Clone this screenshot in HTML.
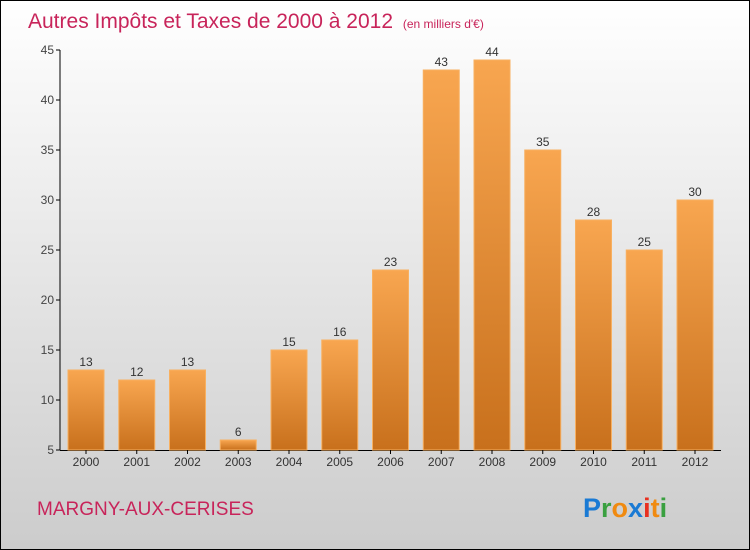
<!DOCTYPE html>
<html><head><meta charset="utf-8"><style>
body{margin:0}
#wrap{position:relative;width:748px;height:548px;border:1px solid #000;background:linear-gradient(#ffffff,#cccccc);font-family:"Liberation Sans",sans-serif;overflow:hidden}
</style></head><body>
<div id="wrap">
<svg width="748" height="548">
<defs><linearGradient id="bg" x1="0" y1="0" x2="0" y2="1"><stop offset="0" stop-color="#f8a650"/><stop offset="1" stop-color="#c8701c"/></linearGradient></defs>
<text x="27" y="27" font-size="21" fill="#c8245a">Autres Impôts et Taxes de 2000 à 2012 <tspan font-size="12" dx="4">(en milliers d'€)</tspan></text>
<g id="plot"></g>
<text x="36" y="514" font-size="19" fill="#c8245a">MARGNY-AUX-CERISES</text>
<g font-size="27" font-weight="bold" font-family="Liberation Sans,sans-serif">
<text x="582" y="516"><tspan fill="#1a7ad4">P</tspan><tspan fill="#3aa040">r</tspan><tspan fill="#f08a10">o</tspan><tspan fill="#1a7ad4">x</tspan><tspan fill="#e83020">i</tspan><tspan fill="#f08a10">t</tspan><tspan fill="#3aa040">i</tspan></text></g>
</svg></div>
<script>
const years=["2000","2001","2002","2003","2004","2005","2006","2007","2008","2009","2010","2011","2012"];
const values=[13,12,13,6,15,16,23,43,44,35,28,25,30];
const yTicks=[5,10,15,20,25,30,35,40,45];
const NS="http://www.w3.org/2000/svg";
const g=document.getElementById('plot');
const y=v=>449-(v-5)*10;
const x=i=>85+i*50.75;
function mk(t,a){const e=document.createElementNS(NS,t);for(const k in a)e.setAttribute(k,a[k]);g.appendChild(e);return e;}
let ax=mk('line',{x1:59,y1:y(45),x2:59,y2:y(5),stroke:'#000'});


let bx=mk('line',{x1:59,y1:y(5)+0.5,x2:720,y2:y(5)+0.5,stroke:'#000'});


yTicks.forEach(t=>{
 mk('line',{x1:55,y1:y(t),x2:59,y2:y(t),stroke:'#000'});
 const l=mk('text',{x:53,y:y(t)+4,'font-size':12,fill:'#444','text-anchor':'end'});
 l.textContent=t;
 
 
});
values.forEach((v,i)=>{
 const r=mk('rect',{x:x(i)-18,y:y(v),width:36,height:y(5)-y(v),fill:'url(#bg)',stroke:'#f8b060','stroke-width':1});
 
 
 const vl=mk('text',{x:x(i),y:y(v)-4,'font-size':12,fill:'#333','text-anchor':'middle'});
 vl.textContent=v;
 
 
 mk('line',{x1:x(i),y1:y(5),x2:x(i),y2:y(5)+4,stroke:'#000'});
 const xl=mk('text',{x:x(i),y:465,'font-size':12,fill:'#333','text-anchor':'middle'});
 xl.textContent=years[i];
 
 
});
</script>
</body></html>
